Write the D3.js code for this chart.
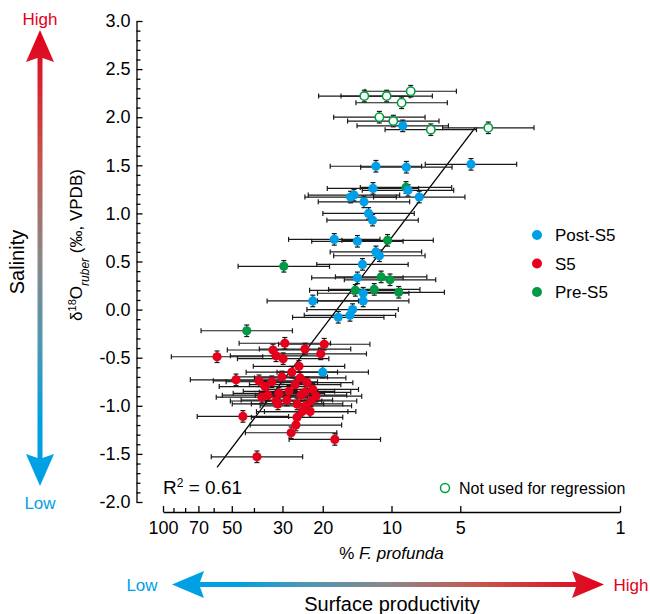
<!DOCTYPE html>
<html>
<head>
<meta charset="utf-8">
<script src="https://cdn.jsdelivr.net/npm/d3@7"></script>
<style>
  body { margin: 0; background: #fff; }
  text { font-family: "Liberation Sans", Arial, sans-serif; }
</style>
</head>
<body>
<div id="chart"></div>
<script>
// [% F. profunda, d18O ruber, x error (log10 half width), y error]
var postS5 = [
    [8.93, 1.91, 0.20, 0.06], [11.7, 1.49, 0.20, 0.06], [8.61, 1.48, 0.20, 0.06],
    [4.49, 1.51, 0.20, 0.06], [12.05, 1.26, 0.20, 0.06], [8.47, 1.24, 0.20, 0.06],
    [7.56, 1.17, 0.20, 0.06], [15.1, 1.17, 0.20, 0.06], [14.6, 1.19, 0.20, 0.06],
    [13.2, 1.12, 0.20, 0.06], [12.6, 1.00, 0.20, 0.06], [12.1, 0.93, 0.20, 0.06],
    [17.8, 0.73, 0.20, 0.06], [14.1, 0.71, 0.20, 0.06], [11.7, 0.60, 0.20, 0.06],
    [11.3, 0.56, 0.20, 0.06], [13.4, 0.47, 0.20, 0.06], [14.1, 0.33, 0.20, 0.06],
    [13.3, 0.17, 0.20, 0.06], [22.1, 0.09, 0.20, 0.06], [13.3, 0.09, 0.20, 0.06],
    [14.8, 0.00, 0.20, 0.06], [15.2, -0.06, 0.20, 0.06], [17.1, -0.08, 0.20, 0.06],
    [20.0, -0.65, 0.20, 0.06]
];
var s5 = [
    [58.0, -0.49, 0.20, 0.06], [33.0, -0.42, 0.20, 0.06], [29.3, -0.35, 0.20, 0.06],
    [32.0, -0.48, 0.20, 0.06], [23.9, -0.41, 0.20, 0.06], [20.4, -0.46, 0.20, 0.06],
    [19.7, -0.36, 0.20, 0.06], [29.8, -0.51, 0.20, 0.06], [25.4, -0.59, 0.20, 0.06],
    [47.9, -0.73, 0.20, 0.06], [38.0, -0.74, 0.20, 0.06], [33.4, -0.75, 0.20, 0.06],
    [30.2, -0.70, 0.20, 0.06], [27.3, -0.65, 0.20, 0.06], [25.1, -0.71, 0.20, 0.06],
    [23.4, -0.76, 0.20, 0.06], [22.1, -0.83, 0.20, 0.06], [21.4, -0.90, 0.20, 0.06],
    [22.5, -0.95, 0.20, 0.06], [24.9, -0.89, 0.20, 0.06], [28.1, -0.85, 0.20, 0.06],
    [31.1, -0.87, 0.20, 0.06], [34.7, -0.89, 0.20, 0.06], [36.9, -0.91, 0.20, 0.06],
    [32.0, -0.95, 0.20, 0.06], [28.7, -0.94, 0.20, 0.06], [25.9, -0.98, 0.20, 0.06],
    [23.7, -1.00, 0.20, 0.06], [22.7, -1.06, 0.20, 0.06], [31.4, -0.98, 0.20, 0.06],
    [44.7, -1.11, 0.20, 0.06], [25.9, -1.12, 0.20, 0.06], [24.6, -1.06, 0.20, 0.06],
    [26.2, -1.20, 0.20, 0.06], [27.5, -1.28, 0.20, 0.06], [17.7, -1.35, 0.20, 0.06],
    [38.8, -1.53, 0.20, 0.06], [35.8, -0.80, 0.20, 0.06], [26.4, -0.78, 0.20, 0.06],
    [23.9, -0.86, 0.20, 0.06]
];
var preS5 = [
    [8.64, 1.27, 0.20, 0.06], [10.4, 0.72, 0.20, 0.06], [29.6, 0.45, 0.20, 0.06],
    [11.1, 0.34, 0.20, 0.06], [10.15, 0.31, 0.20, 0.06], [14.4, 0.20, 0.20, 0.06],
    [11.9, 0.21, 0.20, 0.06], [9.30, 0.18, 0.20, 0.06], [43.0, -0.22, 0.20, 0.06]
];
var notUsed = [
    [13.15, 2.22, 0.20, 0.06], [10.5, 2.22, 0.20, 0.06], [8.24, 2.27, 0.20, 0.06],
    [9.03, 2.15, 0.20, 0.06], [11.3, 2.00, 0.20, 0.06], [9.82, 1.96, 0.20, 0.06],
    [6.73, 1.87, 0.20, 0.06], [3.77, 1.89, 0.20, 0.06]
];
var regression = [[58.0, -1.64], [4.31, 1.89]];
var xMajor = [100, 70, 50, 30, 20, 10, 5, 1];
var xMinor = [90, 80, 60, 40];
var yMajor = [-2, -1.5, -1, -0.5, 0, 0.5, 1, 1.5, 2, 2.5, 3];

var colors = { post: "#00a0e9", s5: "#e5001c", pre: "#009944", open: "#00a040" };

var width = 650, height = 614;
var svg = d3.select("#chart").append("svg")
    .attr("width", width)
    .attr("height", height);

var x = d3.scaleLog().domain([100, 1]).range([163, 620]);
var y = d3.scaleLinear().domain([-2, 3]).range([502, 21]);

// gradients for the two arrows
var defs = svg.append("defs");
var gv = defs.append("linearGradient").attr("id", "gradV")
    .attr("gradientUnits", "userSpaceOnUse")
    .attr("x1", 0).attr("y1", 30).attr("x2", 0).attr("y2", 486);
[["0", "#e3001b"], ["0.3", "#c25a52"], ["0.5", "#8a8888"], ["0.7", "#4a98b6"], ["0.85", "#00a0e0"], ["1", "#00a0e6"]]
    .forEach(function(s) { gv.append("stop").attr("offset", s[0]).attr("stop-color", s[1]); });
var gh = defs.append("linearGradient").attr("id", "gradH")
    .attr("gradientUnits", "userSpaceOnUse")
    .attr("x1", 172).attr("y1", 0).attr("x2", 604).attr("y2", 0);
[["0", "#00a0e6"], ["0.15", "#00a0e0"], ["0.3", "#4a98b6"], ["0.5", "#8a8888"], ["0.7", "#c25a52"], ["1", "#e3001b"]]
    .forEach(function(s) { gh.append("stop").attr("offset", s[0]).attr("stop-color", s[1]); });

// vertical salinity arrow
svg.append("path")
    .attr("d", "M40,30 L54,62 L42.5,58 L42.5,458 L54,454 L40,486 L26,454 L37.5,458 L37.5,58 L26,62 Z")
    .attr("fill", "url(#gradV)");
svg.append("text").attr("x", 40).attr("y", 25).attr("text-anchor", "middle")
    .style("font-size", "17px").attr("fill", "#e3001b").text("High");
svg.append("text").attr("x", 40).attr("y", 509).attr("text-anchor", "middle")
    .style("font-size", "17px").attr("fill", "#00a0e6").text("Low");
svg.append("text")
    .attr("transform", "translate(24,262) rotate(-90)")
    .attr("text-anchor", "middle")
    .style("font-size", "20px").text("Salinity");

// horizontal productivity arrow
svg.append("path")
    .attr("d", "M172,584.5 L204,571 L200,582 L576,582 L572,571 L604,584.5 L572,598 L576,587 L200,587 L204,598 Z")
    .attr("fill", "url(#gradH)");
svg.append("text").attr("x", 142).attr("y", 591).attr("text-anchor", "middle")
    .style("font-size", "17px").attr("fill", "#00a0e6").text("Low");
svg.append("text").attr("x", 631).attr("y", 591).attr("text-anchor", "middle")
    .style("font-size", "17px").attr("fill", "#e3001b").text("High");
svg.append("text").attr("x", 392).attr("y", 611).attr("text-anchor", "middle")
    .style("font-size", "20px").text("Surface productivity");

// y axis, ticks pointing inward
var yAxis = svg.append("g")
    .attr("transform", "translate(136.5,0)")
    .call(d3.axisLeft(y).tickValues(yMajor).tickSizeInner(-6).tickSizeOuter(0).tickPadding(6)
        .tickFormat(function(d) { return d.toFixed(1); }));
svg.append("g")
    .attr("transform", "translate(136.5,0)")
    .call(d3.axisLeft(y).tickValues(d3.range(-20, 31).map(function(i) { return i / 10; })
            .filter(function(d) { return Math.abs(d * 2 - Math.round(d * 2)) > 1e-6; }))
        .tickSizeInner(-4).tickSizeOuter(0).tickFormat(""))
    .select(".domain").remove();

// x axis (log, reversed)
var xAxis = svg.append("g")
    .attr("transform", "translate(0,512)")
    .call(d3.axisBottom(x).tickValues(xMajor).tickSizeInner(-6).tickSizeOuter(0).tickPadding(9)
        .tickFormat(d3.format("d")));
svg.append("g")
    .attr("transform", "translate(0,512)")
    .call(d3.axisBottom(x).tickValues(xMinor).tickSizeInner(-4).tickSizeOuter(0).tickFormat(""))
    .select(".domain").remove();

svg.selectAll(".domain, .tick line").attr("stroke", "#000").attr("stroke-width", 1.3);
svg.selectAll(".tick text").style("font-size", "18px").style("font-family", "Liberation Sans, Arial, sans-serif").attr("fill", "#000");

// y axis title
var yt = svg.append("text")
    .attr("transform", "translate(82,245) rotate(-90)")
    .attr("text-anchor", "middle")
    .style("font-size", "17px");
yt.append("tspan").text("\u03b4");
yt.append("tspan").attr("baseline-shift", "super").style("font-size", "11px").text("18");
yt.append("tspan").text("O");
yt.append("tspan").attr("baseline-shift", "sub").style("font-size", "12px").style("font-style", "italic").text("ruber");
yt.append("tspan").text(" (\u2030, VPDB)");

// x axis title
var xt = svg.append("text").attr("x", 391.5).attr("y", 559)
    .attr("text-anchor", "middle").style("font-size", "17px");
xt.append("tspan").text("% ");
xt.append("tspan").style("font-style", "italic").text("F. profunda");

// regression line
svg.append("line")
    .attr("x1", x(regression[0][0])).attr("y1", y(regression[0][1]))
    .attr("x2", x(regression[1][0])).attr("y2", y(regression[1][1]))
    .attr("stroke", "#000").attr("stroke-width", 1.3);

var all = notUsed.concat(postS5, s5, preS5);

// error bars first, points on top
var bars = svg.append("g").attr("stroke", "#1a1a1a").attr("stroke-width", 1.2);
all.forEach(function(d) {
    var lo = d[0] * Math.pow(10, d[2]), hi = d[0] / Math.pow(10, d[2]);
    var x0 = x(lo), x1 = x(hi), cy = y(d[1]);
    var yTop = y(d[1] + d[3]), yBot = y(d[1] - d[3]), cx = x(d[0]);
    bars.append("line").attr("x1", x0).attr("x2", x1).attr("y1", cy).attr("y2", cy);
    bars.append("line").attr("x1", x0).attr("x2", x0).attr("y1", cy - 2.5).attr("y2", cy + 2.5);
    bars.append("line").attr("x1", x1).attr("x2", x1).attr("y1", cy - 2.5).attr("y2", cy + 2.5);
    bars.append("line").attr("x1", cx).attr("x2", cx).attr("y1", yTop).attr("y2", yBot);
    bars.append("line").attr("x1", cx - 2.5).attr("x2", cx + 2.5).attr("y1", yTop).attr("y2", yTop);
    bars.append("line").attr("x1", cx - 2.5).attr("x2", cx + 2.5).attr("y1", yBot).attr("y2", yBot);
});

function drawPoints(data, fill) {
    svg.append("g").selectAll("circle")
        .data(data)
        .enter()
        .append("circle")
        .attr("cx", function(d) { return x(d[0]); })
        .attr("cy", function(d) { return y(d[1]); })
        .attr("r", 4.6)
        .attr("fill", fill);
}
drawPoints(preS5, colors.pre);
drawPoints(postS5, colors.post);
drawPoints(s5, colors.s5);

svg.append("g").selectAll("circle")
    .data(notUsed)
    .enter()
    .append("circle")
    .attr("cx", function(d) { return x(d[0]); })
    .attr("cy", function(d) { return y(d[1]); })
    .attr("r", 4.2)
    .attr("fill", "#fff")
    .attr("stroke", colors.open)
    .attr("stroke-width", 1.6);

// legend
var legend = [["Post-S5", colors.post], ["S5", colors.s5], ["Pre-S5", colors.pre]];
legend.forEach(function(l, i) {
    svg.append("circle").attr("cx", 537).attr("cy", 235 + i * 28.5).attr("r", 5).attr("fill", l[1]);
    svg.append("text").attr("x", 555).attr("y", 241 + i * 28.5).style("font-size", "17px").text(l[0]);
});
svg.append("circle").attr("cx", 445).attr("cy", 488).attr("r", 4.5)
    .attr("fill", "#fff").attr("stroke", colors.open).attr("stroke-width", 1.5);
svg.append("text").attr("x", 459).attr("y", 494).style("font-size", "16px").text("Not used for regression");

// R squared
var r2 = svg.append("text").attr("x", 163).attr("y", 494).style("font-size", "19px");
r2.append("tspan").text("R");
r2.append("tspan").attr("baseline-shift", "super").style("font-size", "12px").text("2");
r2.append("tspan").text(" = 0.61");
</script>
</body>
</html>
